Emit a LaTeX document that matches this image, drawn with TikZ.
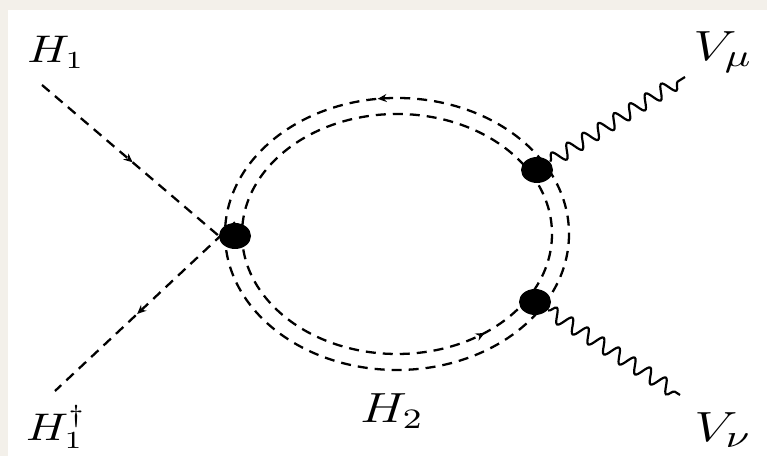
\documentclass[tikz,border=0pt]{standalone}
\definecolor{paperbg}{RGB}{243, 240, 234}
\usetikzlibrary{arrows.meta, decorations.pathmorphing, decorations.markings, shapes.geometric}

\tikzset{
    scalar/.style={draw=black, line width=0.65pt, dash pattern=on 0.1cm off 0.07cm},
    flowmark/.style={postaction={decorate, decoration={markings, mark=at position #1 with {\arrow{Stealth[length=0.09cm, width=0.08cm]}}}}},
    backmark/.style={postaction={decorate, decoration={markings, mark=at position #1 with {\arrowreversed{Stealth[length=0.09cm, width=0.08cm]}}}}},
    gauge/.style={draw=black, line width=0.62pt, decorate, decoration={snake, segment length=0.185cm, amplitude=0.07cm}},
    blob/.style={ellipse, fill=black, inner sep=0pt, minimum width=0.32cm, minimum height=0.26cm},
    lbl/.style n args={2}{font=\fontsize{#1}{14}\selectfont, inner sep=0pt, xscale=#2, transform shape}
}

\begin{document}
\begin{tikzpicture}[x=0.01cm, y=-0.01cm]
        \fill[paperbg] (0, 0) rectangle (767, 456);
        \fill[white] (8, 10) rectangle (767, 456);
        \useasboundingbox (0, 0) rectangle (767, 456);

        % loop
        \draw[scalar, backmark=0.73] (397, 234) ellipse [x radius=172, y radius=136];
        \draw[scalar, backmark=0.145] (397, 234) ellipse [x radius=155, y radius=120];

        % vertices
        \node[blob] (left) at (235, 236) {};
        \node[blob] (upper) at (537, 170) {};
        \node[blob] (lower) at (535, 302) {};

        % external ends
        \coordinate (h1) at (42, 85);
        \coordinate (h1dag) at (55, 391);
        \coordinate (vmu) at (685, 77);
        \coordinate (vnu) at (680, 395);

        \draw[scalar, flowmark=0.47] (h1) -- (left.south);
        \draw[scalar, flowmark=0.544] (left.north) -- (h1dag);
        \draw[gauge] (upper) -- (vmu);
        \draw[gauge] (lower) -- (vnu);

        % labels
        \node[lbl={10.6}{1.2}] (lh1) at (56, 52) {$H_1$};
        \node[lbl={10.6}{1.2}] (lh1dag) at (56, 427) {$H_1^\dagger$};
        \node[lbl={11.6}{1.25}] (lh2) at (392, 411) {$H_2$};
        \node[lbl={12.4}{1.3}] (lvmu) at (723, 52) {$V_\mu$};
        \node[lbl={12.4}{1.3}] (lvnu) at (723, 430) {$V_\nu$};
    \end{tikzpicture}
\end{document}
